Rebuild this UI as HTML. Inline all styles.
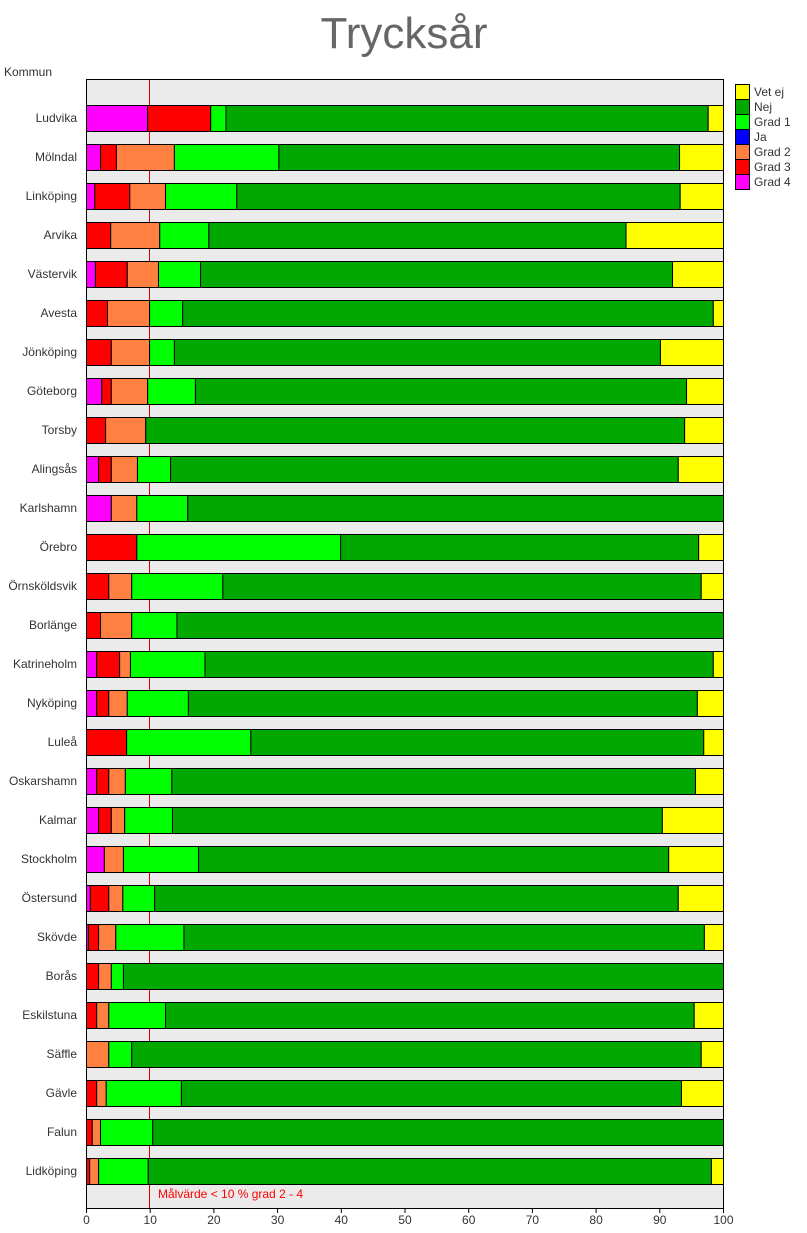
<!DOCTYPE html>
<html><head><meta charset="utf-8"><style>
body{margin:0;background:#fff;width:807px;height:1228px;overflow:hidden}
svg{font-family:"Liberation Sans",sans-serif}
</style></head><body>
<svg id="c" width="807" height="1228" xmlns="http://www.w3.org/2000/svg">
<text x="404" y="48" text-anchor="middle" font-size="44" fill="#666">Trycksår</text>
<text x="4" y="76" font-size="12" fill="#333">Kommun</text>
<rect x="86.5" y="79.5" width="637" height="1129" fill="#ebebeb" stroke="#000"/>
<line x1="149.5" y1="80" x2="149.5" y2="1208" stroke="#e00000"/>
<text x="158" y="1198" font-size="12" fill="#f00">Målvärde &lt; 10 % grad 2 - 4</text>
<g id="bars"></g><g id="ax"></g><g id="leg"></g>
</svg>
<script>
const categories=["Ludvika","Mölndal","Linköping","Arvika","Västervik","Avesta","Jönköping","Göteborg","Torsby","Alingsås","Karlshamn","Örebro","Örnsköldsvik","Borlänge","Katrineholm","Nyköping","Luleå","Oskarshamn","Kalmar","Stockholm","Östersund","Skövde","Borås","Eskilstuna","Säffle","Gävle","Falun","Lidköping"];
const grad4=[9.6,2.2,1.3,0,1.4,0,0,2.4,0,1.9,3.9,0,0,0,1.6,1.6,0,1.6,1.9,2.8,0.6,0.3,0,0,0,0,0,0];
const grad3=[9.9,2.5,5.5,3.8,5,3.3,3.9,1.5,3,2,0,7.9,3.5,2.2,3.6,1.9,6.3,1.9,2,0,2.9,1.6,1.9,1.6,0,1.6,0.9,0.5];
const grad2=[0,9.1,5.6,7.7,4.9,6.6,6,5.7,6.3,4.1,4,0,3.6,4.9,1.7,2.9,0,2.6,2.1,3,2.2,2.7,2,1.9,3.5,1.5,1.3,1.4];
const ja=[0,0,0,0,0,0,0,0,0,0,0,0,0,0,0,0,0,0,0,0,0,0,0,0,0,0,0,0];
const grad1=[2.4,16.4,11.2,7.7,6.6,5.2,3.9,7.5,0,5.2,8,32,14.3,7.1,11.7,9.6,19.5,7.3,7.5,11.8,5,10.7,1.9,8.9,3.6,11.8,8.2,7.8];
const nej=[75.7,62.9,69.6,65.5,74.1,83.3,76.3,77.1,84.6,79.7,84.1,56.2,75.1,85.8,79.8,79.9,71.1,82.2,76.9,73.8,82.2,81.7,94.2,83,89.4,78.5,89.6,88.4];
const vetej=[2.4,6.9,6.8,15.3,8,1.6,9.9,5.8,6.1,7.1,0,3.9,3.5,0,1.6,4.1,3.1,4.4,9.6,8.6,7.1,3,0,4.6,3.5,6.6,0,1.9];
const xTicks=[0,10,20,30,40,50,60,70,80,90,100];
const seriesNames=["Grad 4","Grad 3","Grad 2","Ja","Grad 1","Nej","Vet ej"];
const ns="http://www.w3.org/2000/svg";
const series=[grad4,grad3,grad2,ja,grad1,nej,vetej];
const colors=["#ff00ff","#ff0000","#ff8040","#0000ff","#00ff00","#00a800","#ffff00"];
const x=v=>86.5+v*6.37;
const y=i=>105+i*39;
const bars=document.getElementById('bars');
categories.forEach((c,i)=>{
  let t=document.createElementNS(ns,'text');
  
  
  t.setAttribute('x',77);t.setAttribute('y',y(i)+17);t.setAttribute('text-anchor','end');
  t.setAttribute('font-size','12');t.setAttribute('fill','#333');t.textContent=c;bars.appendChild(t);
  let cum=0;
  series.forEach((s,k)=>{
    const v=s[i];if(v<=0)return;
    let r=document.createElementNS(ns,'rect');
    
    
    const x0=x(cum),x1=x(Math.min(100,cum+v));
    r.setAttribute('x',x0);r.setAttribute('y',y(i)+0.5);r.setAttribute('width',x1-x0);r.setAttribute('height',26);
    r.setAttribute('fill',colors[k]);r.setAttribute('stroke','#000');bars.appendChild(r);
    cum+=v;
  });
});
const ax=document.getElementById('ax');
xTicks.forEach(v=>{
  let l=document.createElementNS(ns,'line');
  
  
  l.setAttribute('x1',x(v));l.setAttribute('x2',x(v));l.setAttribute('y1',1208);l.setAttribute('y2',1213);l.setAttribute('stroke','#000');ax.appendChild(l);
  let t=document.createElementNS(ns,'text');
  
  
  t.setAttribute('x',x(v));t.setAttribute('y',1224);t.setAttribute('text-anchor','middle');t.setAttribute('font-size','12');t.setAttribute('fill','#333');t.textContent=v;ax.appendChild(t);
});
const leg=document.getElementById('leg');
for(let j=0;j<7;j++){
  const k=6-j;
  let r=document.createElementNS(ns,'rect');
  
  
  r.setAttribute('x',735.5);r.setAttribute('y',84.5+j*15);r.setAttribute('width',14);r.setAttribute('height',15);
  r.setAttribute('fill',colors[k]);r.setAttribute('stroke','#000');leg.appendChild(r);
  let t=document.createElementNS(ns,'text');
  
  
  t.setAttribute('x',754);t.setAttribute('y',96+j*15);t.setAttribute('font-size','12');t.setAttribute('fill','#333');t.textContent=seriesNames[k];leg.appendChild(t);
}
</script>
</body></html>
